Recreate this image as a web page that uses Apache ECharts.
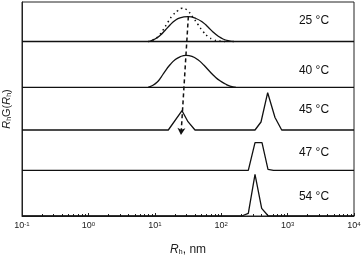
<!DOCTYPE html>
<html><head><meta charset="utf-8">
<script src="https://cdn.jsdelivr.net/npm/echarts@6/dist/echarts.min.js"></script>
<style>html,body{margin:0;padding:0;background:#fff}#c{width:363px;height:255px}</style>
</head><body><div id="c"></div>
<script>
// ---- data (Rh in nm, intensity in arbitrary units) ----
const temps = ['25 °C', '40 °C', '45 °C', '47 °C', '54 °C'];
const offsets = [174.5, 128.7, 86, 45.7, 0];   // vertical offset of each trace
const xRange = [0.1, 10000];

const rh25 = [8.18, 10.07, 11.97, 14.24, 16.94, 20.15, 23.96, 31.6, 41.7, 53.2, 63.3, 75.2, 89.5, 106.4, 131, 155.9];
const g25  = [0,    2.5,   6,     11,    16.5,  21,    23.7,  24.8, 23,   19,   14.5, 9.5,  5.5,  2.5,   0.6, 0];

const rh25b = [7.9, 9.4, 11.2, 13.3, 15.8, 18.8, 22.4, 25.7, 30.5, 37.6, 44.7, 53.2, 63.3, 75.2, 92.7, 114];
const g25b  = [0,   1.5, 5,    11.5, 19.5, 26.5, 31,   33.2, 31.5, 24,   17,   10,   5,    2,    0.5,  0];

const rh40 = [7.9, 9.07, 10.8, 12.4, 14.24, 16.94, 20.15, 23.96, 29.5, 36.3, 44.7, 55.1, 67.8, 80.7, 95.9, 114, 135.7, 167];
const g40  = [0,   1.5,  5,    10,   16,    22.5,  27.5,  30.5,  32,   31,   27.5, 22,   15.5, 10.5, 6.5,  3.5, 1.2,   0];

const rh45 = [0.1, 15.97, 25.7, 31.6, 40.3, 323, 397.6, 501, 646, 815, 10000];
const g45  = [0,   0,     19.3, 8.3,  0,    0,   8,     37.3, 12.5, 0,  0];

const rh47 = [0.1, 256, 323, 411.7, 506.6, 613, 10000];
const g47  = [0,   0,   27.6, 27.6, 1,     0,   0];

const rh54 = [0.1, 203.6, 256, 323, 407, 512, 10000];
const g54  = [0,   0,     2.7, 41.7, 7.7, 0,  0];

const xTicks = [0.1, 1, 10, 100, 1000, 10000];
const xTickExp = ['-1', '0', '1', '2', '3', '4'];
const xMinorTicks = [0.2,0.3,0.4,0.5,0.6,0.7,0.8,0.9, 2,3,4,5,6,7,8,9, 20,30,40,50,60,70,80,90,
                     200,300,400,500,600,700,800,900, 2000,3000,4000,5000,6000,7000,8000,9000];

// arrow marking the peak shift: [Rh (nm), trace index, height above that trace]
const arrowFrom = [32, 0, 25];
const arrowTo = [24.8, 2, -5];

// ---- build ----
const FONT = "'Liberation Sans', Arial, sans-serif";
const INK = '#111';
function pts(xs, ys, off) { return xs.map((x, i) => [x, ys[i] + off]); }

const chart = echarts.init(document.getElementById('c'), null, {renderer: 'canvas'});

const lineBase = {type: 'line', symbol: 'none', xAxisIndex: 0, yAxisIndex: 0, silent: true,
  lineStyle: {color: INK, width: 1.3}, z: 3};

const series = [
  // baselines of the two smooth traces
  Object.assign({}, lineBase, {data: pts(xRange, [0, 0], offsets[0])}),
  Object.assign({}, lineBase, {data: pts(xRange, [0, 0], offsets[1])}),
  Object.assign({}, lineBase, {data: pts(rh25, g25, offsets[0]), smooth: 0.5}),
  Object.assign({}, lineBase, {data: pts(rh25b, g25b, offsets[0]), smooth: 0.5,
    lineStyle: {color: INK, width: 1.5, type: [1.4, 3.4]}}),
  Object.assign({}, lineBase, {data: pts(rh40, g40, offsets[1]), smooth: 0.5}),
  Object.assign({}, lineBase, {data: pts(rh45, g45, offsets[2])}),
  Object.assign({}, lineBase, {data: pts(rh47, g47, offsets[3])}),
  Object.assign({}, lineBase, {data: pts(rh54, g54, offsets[4]),
    markLine: {
      silent: true, animation: false,
      symbol: ['none', 'arrow'], symbolSize: [6, 7],
      lineStyle: {color: INK, width: 1.5, type: [4, 3]},
      label: {show: false},
      data: [[
        {coord: [arrowFrom[0], offsets[arrowFrom[1]] + arrowFrom[2]]},
        {coord: [arrowTo[0], offsets[arrowTo[1]] + arrowTo[2]]}
      ]]
    }})
];

const labelY = [21, 71, 110, 153, 197];

chart.setOption({
  animation: false,
  backgroundColor: '#fff',
  grid: {left: 22, right: 9, top: 2, bottom: 39, outerBoundsMode: 'none', containLabel: false,
         show: true, borderColor: '#222', borderWidth: 1, backgroundColor: 'transparent'},
  xAxis: [
    {type: 'log', logBase: 10, min: xRange[0], max: xRange[1], position: 'bottom',
     axisLine: {show: true, lineStyle: {color: '#222', width: 1}},
     axisTick: {show: true, inside: true, length: 3, customValues: xTicks, lineStyle: {color: '#222', width: 1}},
     splitLine: {show: false},
     axisLabel: {show: true, customValues: xTicks, margin: 5,
       formatter: v => { const i = xTicks.findIndex(t => Math.abs(Math.log10(t) - Math.log10(v)) < 1e-6);
                         return '{b|10}{s|' + xTickExp[i] + '}'; },
       rich: {b: {fontSize: 9, fontFamily: FONT, color: '#222'},
              s: {fontSize: 6, fontFamily: FONT, color: '#222', verticalAlign: 'top', padding: [0, 0, 4, 0]}}},
     name: '{i|R}{sub|h}{n|, nm}', nameLocation: 'middle', nameGap: 27,
     nameTextStyle: {rich: {i: {fontSize: 12, fontStyle: 'italic', fontFamily: FONT, color: '#222'},
                            sub: {fontSize: 7.5, fontFamily: FONT, color: '#222', padding: [5, 0, 0, 0]},
                            n: {fontSize: 12, fontFamily: FONT, color: '#222'}}}},
    {type: 'log', logBase: 10, min: xRange[0], max: xRange[1], position: 'bottom',
     axisLine: {show: false},
     axisTick: {show: true, inside: true, length: 2, customValues: xMinorTicks, lineStyle: {color: '#222', width: 1}},
     splitLine: {show: false}, axisLabel: {show: false}}
  ],
  yAxis: {type: 'value', min: 0, max: 214,
    axisLine: {show: true, lineStyle: {color: '#222', width: 1}},
    axisTick: {show: false}, axisLabel: {show: false}, splitLine: {show: false},
    name: '{i|R}{sub|h}{n|G(}{i|R}{sub|h}{n|)}', nameLocation: 'middle', nameGap: 9, nameRotate: 90,
    nameTextStyle: {rich: {i: {fontSize: 11, fontStyle: 'italic', fontFamily: FONT, color: '#222'},
                           sub: {fontSize: 7, fontFamily: FONT, color: '#222', padding: [5, 0, 0, 0]},
                           n: {fontSize: 11, fontFamily: FONT, color: '#222'}}}},
  series: series,
  graphic: temps.map((t, i) => ({type: 'text', x: 314, y: labelY[i], silent: true,
    style: {text: t, align: 'center', verticalAlign: 'middle', fontSize: 12, fontFamily: FONT, fill: '#111'}}))
});
</script></body></html>
